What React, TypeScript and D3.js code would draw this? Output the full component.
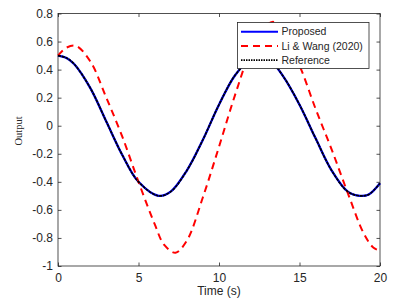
import React, { useRef, useEffect } from 'react';
import * as d3 from 'd3';

// time (s) samples and outputs
const proposedT = [0, 0.5, 1, 2, 3, 4, 5, 6.25, 7, 8, 9, 10, 11, 12, 12.5, 13, 14, 15, 16, 17, 18, 18.75, 19.3, 20];
const proposedV = [0.5, 0.485, 0.44, 0.27, 0.03, -0.21, -0.4, -0.5, -0.47, -0.32, -0.1, 0.15, 0.36, 0.48, 0.5, 0.49, 0.35, 0.15, -0.09, -0.32, -0.47, -0.5, -0.49, -0.41];
const liWangT = [0, 0.5, 1.1, 2, 3, 4, 5, 6, 6.6, 7.3, 8, 9, 10, 11, 12, 13, 13.4, 14, 15, 16, 17, 18, 19, 19.6, 20];
const liWangV = [0.5, 0.555, 0.57, 0.46, 0.2, -0.08, -0.4, -0.7, -0.85, -0.905, -0.82, -0.51, -0.15, 0.22, 0.54, 0.72, 0.74, 0.66, 0.43, 0.12, -0.17, -0.48, -0.77, -0.87, -0.89];
const xTicks = [0, 5, 10, 15, 20];
const yTicks = [-1, -0.8, -0.6, -0.4, -0.2, 0, 0.2, 0.4, 0.6, 0.8];
const legendLabels = ['Proposed', 'Li & Wang (2020)', 'Reference'];

export default function App() {
  const svgRef = useRef<SVGSVGElement>(null);

  useEffect(() => {
    if (!svgRef.current) return;
    const width = 417;
    const height = 305;
    const left = 58, right = 380, top = 13.5, bottom = 266;
    const font = '"Liberation Sans", Arial, sans-serif';
    const axisColor = '#262626';

    const svg = d3.select(svgRef.current)
      .attr('width', width)
      .attr('height', height)
      .attr('viewBox', `0 0 ${width} ${height}`);
    svg.selectAll('*').remove();

    svg.append('rect').attr('width', width).attr('height', height).attr('fill', 'white');

    const x = d3.scaleLinear().domain([0, 20]).range([left, right]);
    const y = d3.scaleLinear().domain([-1, 0.8]).range([bottom, top]);

    const fmt = (d: any) => String(d);

    // axes with inward ticks on all four sides
    const gx = svg.append('g')
      .attr('transform', `translate(0,${bottom})`)
      .call(d3.axisBottom(x).tickValues(xTicks).tickSizeInner(-3.5).tickSizeOuter(0).tickPadding(7).tickFormat(fmt));
    const gy = svg.append('g')
      .attr('transform', `translate(${left},0)`)
      .call(d3.axisLeft(y).tickValues(yTicks).tickSizeInner(-3.5).tickSizeOuter(0).tickPadding(5).tickFormat(fmt));
    const gt = svg.append('g')
      .attr('transform', `translate(0,${top})`)
      .call(d3.axisTop(x).tickValues(xTicks).tickSizeInner(-3.5).tickSizeOuter(0).tickFormat(() => ''));
    const gr = svg.append('g')
      .attr('transform', `translate(${right},0)`)
      .call(d3.axisRight(y).tickValues(yTicks).tickSizeInner(-3.5).tickSizeOuter(0).tickFormat(() => ''));

    [gx, gy, gt, gr].forEach(g => {
      g.select('.domain').remove();
      g.selectAll('line').attr('stroke', axisColor).attr('stroke-width', 0.8);
      g.selectAll('text').attr('fill', axisColor).attr('font-family', font).attr('font-size', '12px');
    });

    svg.append('rect')
      .attr('x', left).attr('y', top)
      .attr('width', right - left).attr('height', bottom - top)
      .attr('fill', 'none').attr('stroke', axisColor).attr('stroke-width', 0.8);

    const line = d3.line<[number, number]>()
      .x(d => x(d[0]))
      .y(d => y(d[1]))
      .curve(d3.curveCatmullRom.alpha(0.5));

    const proposed: [number, number][] = proposedT.map((t, i) => [t, proposedV[i]]);
    const liWang: [number, number][] = liWangT.map((t, i) => [t, liWangV[i]]);

    const plot = svg.append('g');
    plot.append('path').datum(proposed).attr('d', line)
      .attr('fill', 'none').attr('stroke', '#0000ff').attr('stroke-width', 2.3);
    plot.append('path').datum(liWang).attr('d', line)
      .attr('fill', 'none').attr('stroke', '#ff0000').attr('stroke-width', 2).attr('stroke-dasharray', '7 5');
    // reference overlaps the proposed curve
    plot.append('path').datum(proposed).attr('d', line)
      .attr('fill', 'none').attr('stroke', '#000000').attr('stroke-width', 1.7).attr('stroke-dasharray', '3 0.8');

    // labels
    svg.append('text')
      .attr('x', (left + right) / 2).attr('y', 294.5)
      .attr('text-anchor', 'middle')
      .attr('fill', axisColor).attr('font-family', font).attr('font-size', '12px')
      .text('Time (s)');
    svg.append('text')
      .attr('transform', `translate(22,131) rotate(-90)`)
      .attr('text-anchor', 'middle')
      .attr('fill', axisColor).attr('font-family', '"Liberation Serif", "Times New Roman", serif').attr('font-size', '10.5px')
      .text('Output');

    // legend
    const lg = svg.append('g');
    lg.append('rect')
      .attr('x', 237.5).attr('y', 22.5).attr('width', 131.5).attr('height', 46)
      .attr('fill', 'white').attr('stroke', axisColor).attr('stroke-width', 0.8);
    const styles = [
      { color: '#0000ff', dash: null, w: 2 },
      { color: '#ff0000', dash: '7 5', w: 2 },
      { color: '#000000', dash: '1.5 1', w: 1.6 },
    ];
    legendLabels.forEach((label, i) => {
      const yy = 31.7 + i * 14.2;
      const l = lg.append('line')
        .attr('x1', 241).attr('x2', 278).attr('y1', yy).attr('y2', yy)
        .attr('stroke', styles[i].color).attr('stroke-width', styles[i].w);
      if (styles[i].dash) l.attr('stroke-dasharray', styles[i].dash);
      lg.append('text')
        .attr('x', 281.5).attr('y', yy).attr('dy', '0.35em')
        .attr('fill', axisColor).attr('font-family', font).attr('font-size', '10.5px')
        .text(label);
    });
  }, []);

  return <svg ref={svgRef} style={{ position: 'absolute', left: 0, top: 0, display: 'block' }} />;
}
